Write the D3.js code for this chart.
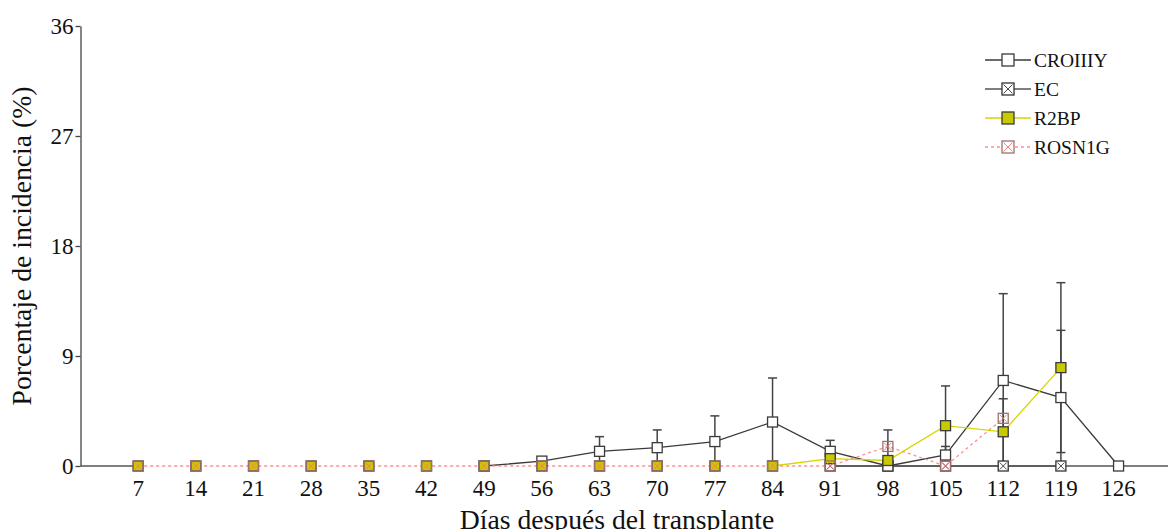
<!DOCTYPE html>
<html>
<head>
<meta charset="utf-8">
<script src="https://cdn.jsdelivr.net/npm/d3@7"></script>
<style>
  html, body { margin: 0; padding: 0; background: #fff; }
  svg { display: block; }
</style>
</head>
<body>
<svg id="chart" width="1171" height="530"></svg>
<script>
// Days after transplant
const days = [7, 14, 21, 28, 35, 42, 49, 56, 63, 70, 77, 84, 91, 98, 105, 112, 119, 126];
const yTicks = [0, 9, 18, 27, 36];

// Incidence (%) per treatment, null = no observation
const croiiiy    = [null, null, null, null, null, null, 0, 0.4, 1.2, 1.5, 2.0, 3.6, 1.2, 0, 0.9, 7.0, 5.6, 0];
const croiiiyErr = [0, 0, 0, 0, 0, 0, 0, 0, 1.2, 1.45, 2.1, 3.6, 0.9, 0, 0.7, 7.1, 5.5, 0];
const ec         = [null, null, null, null, null, null, null, null, null, null, null, null, 0, 0, 0, 0, 0, null];
const r2bp       = [0, 0, 0, 0, 0, 0, 0, 0, 0, 0, 0, 0, 0.6, 0.45, 3.3, 2.8, 8.05, null];
const r2bpErr    = [0, 0, 0, 0, 0, 0, 0, 0, 0, 0, 0, 0, 0, 0, 3.25, 2.7, 6.95, 0];
const rosn1g     = [0, 0, 0, 0, 0, 0, 0, 0, 0, 0, 0, 0, 0, 1.6, 0, 3.9, null, null];
const rosn1gErr  = [0, 0, 0, 0, 0, 0, 0, 0, 0, 0, 0, 0, 0, 1.35, 0, 0, 0, 0];

// First day from which each series' connecting line is drawn
const lineFrom = { CROIIIY: 49, EC: 91, R2BP: 84, ROSN1G: 7 };

const FONT = "'Liberation Serif'";

const series = [
  { name: "CROIIIY", values: croiiiy, err: croiiiyErr, line: "#3a3a3a", dash: null, width: 1.3,
    fill: "#ffffff", stroke: "#3a3a3a", cross: null },
  { name: "EC", values: ec, err: null, line: "#555555", dash: null, width: 1.3,
    fill: "#ffffff", stroke: "#333333", cross: "#333333" },
  { name: "R2BP", values: r2bp, err: r2bpErr, line: "#d6d600", dash: null, width: 1.3,
    fill: "#c9c900", stroke: "#3a3a3a", cross: null },
  { name: "ROSN1G", values: rosn1g, err: rosn1gErr, line: "#ff8f8f", dash: "3,3", width: 1.3,
    fill: "none", stroke: "#a07070", cross: "#ff7070" }
];

const svg = d3.select("#chart");
const x = d3.scaleLinear().domain([0, 132]).range([80.5, 1168]);
const y = d3.scaleLinear().domain([0, 36]).range([466, 26]);

// Y axis
const yAxis = d3.axisLeft(y).tickValues(yTicks).tickSize(5).tickSizeOuter(0).tickPadding(2);
const gy = svg.append("g").attr("transform", "translate(80.5,0)").call(yAxis);
gy.select(".domain").attr("stroke", "#444").attr("stroke-width", 1.3);
gy.selectAll(".tick line").attr("stroke", "#444").attr("stroke-width", 1.3);
gy.selectAll(".tick text").attr("fill", "#111")
  .style("font-family", FONT).style("font-size", "23px");

// X axis labels (no tick marks)
const gx = svg.append("g").attr("transform", "translate(0,466)");
gx.selectAll("text").data(days).join("text")
  .attr("x", d => x(d)).attr("y", 30)
  .attr("text-anchor", "middle").attr("fill", "#111")
  .style("font-family", FONT).style("font-size", "23px")
  .text(d => d);

// Zero baseline, interrupted under the early zero readings
const baselineSegments = [[0, 7], [91, 132]];
svg.append("g").selectAll("line").data(baselineSegments).join("line")
  .attr("x1", d => x(d[0])).attr("x2", d => x(d[1]))
  .attr("y1", y(0)).attr("y2", y(0))
  .attr("stroke", "#555").attr("stroke-width", 1.5);

// Axis titles
svg.append("text")
  .attr("transform", `translate(31,${y(18)}) rotate(-90)`)
  .attr("text-anchor", "middle").attr("fill", "#111")
  .style("font-family", FONT).style("font-size", "27.7px")
  .text("Porcentaje de incidencia (%)");
svg.append("text")
  .attr("x", 617).attr("y", 529)
  .attr("text-anchor", "middle").attr("fill", "#111")
  .style("font-family", FONT).style("font-size", "27.7px")
  .text("Días después del transplante");

// Series lines
series.forEach(s => {
  const pts = days.map((d, i) => ({ d, v: s.values[i] }))
    .filter(p => p.v !== null && p.d >= lineFrom[s.name]);
  const line = d3.line().x(p => x(p.d)).y(p => y(p.v));
  svg.append("path").datum(pts)
    .attr("d", line).attr("fill", "none")
    .attr("stroke", s.line).attr("stroke-width", s.width)
    .attr("stroke-dasharray", s.dash);
});

// Error bars
const cap = 4.5;
series.forEach(s => {
  if (!s.err) return;
  const bars = days.map((d, i) => ({ d, v: s.values[i], e: s.err[i] }))
    .filter(p => p.v !== null && p.e > 0);
  const g = svg.append("g").attr("stroke", "#444").attr("stroke-width", 1.5);
  bars.forEach(p => {
    const lo = Math.max(0, p.v - p.e), hi = p.v + p.e;
    g.append("line").attr("x1", x(p.d)).attr("x2", x(p.d)).attr("y1", y(lo)).attr("y2", y(hi));
    g.append("line").attr("x1", x(p.d) - cap).attr("x2", x(p.d) + cap).attr("y1", y(hi)).attr("y2", y(hi));
    if (p.v - p.e > 0)
      g.append("line").attr("x1", x(p.d) - cap).attr("x2", x(p.d) + cap).attr("y1", y(lo)).attr("y2", y(lo));
  });
});

// Square markers
function marker(g, cx, cy, s, size) {
  const h = size / 2;
  g.append("rect").attr("x", cx - h).attr("y", cy - h).attr("width", size).attr("height", size)
    .attr("fill", s.fill).attr("stroke", s.stroke).attr("stroke-width", 1.3);
  if (s.cross) {
    const k = h - 1.5;
    g.append("path")
      .attr("d", `M${cx - k},${cy - k}L${cx + k},${cy + k}M${cx + k},${cy - k}L${cx - k},${cy + k}`)
      .attr("stroke", s.cross).attr("stroke-width", 0.9).attr("fill", "none");
  }
}
const order = ["EC", "CROIIIY", "R2BP", "ROSN1G"];
order.forEach(name => {
  const s = series.find(t => t.name === name);
  const g = svg.append("g");
  days.forEach((d, i) => {
    if (s.values[i] === null) return;
    marker(g, x(d), y(s.values[i]), s, 10);
  });
});

// Legend
const legend = svg.append("g").attr("transform", "translate(985,60)");
series.forEach((s, i) => {
  const row = legend.append("g").attr("transform", `translate(0,${i * 29})`);
  row.append("line").attr("x1", 0).attr("x2", 46).attr("y1", 0).attr("y2", 0)
    .attr("stroke", s.line).attr("stroke-width", s.width).attr("stroke-dasharray", s.dash);
  const ls = Object.assign({}, s, { fill: s.fill === "none" ? "#fff" : s.fill });
  marker(row, 23, 0, ls, 12);
  row.append("text").attr("x", 49).attr("y", 7).attr("fill", "#111")
    .style("font-family", FONT).style("font-size", "19.5px")
    .text(s.name);
});
</script>
</body>
</html>
